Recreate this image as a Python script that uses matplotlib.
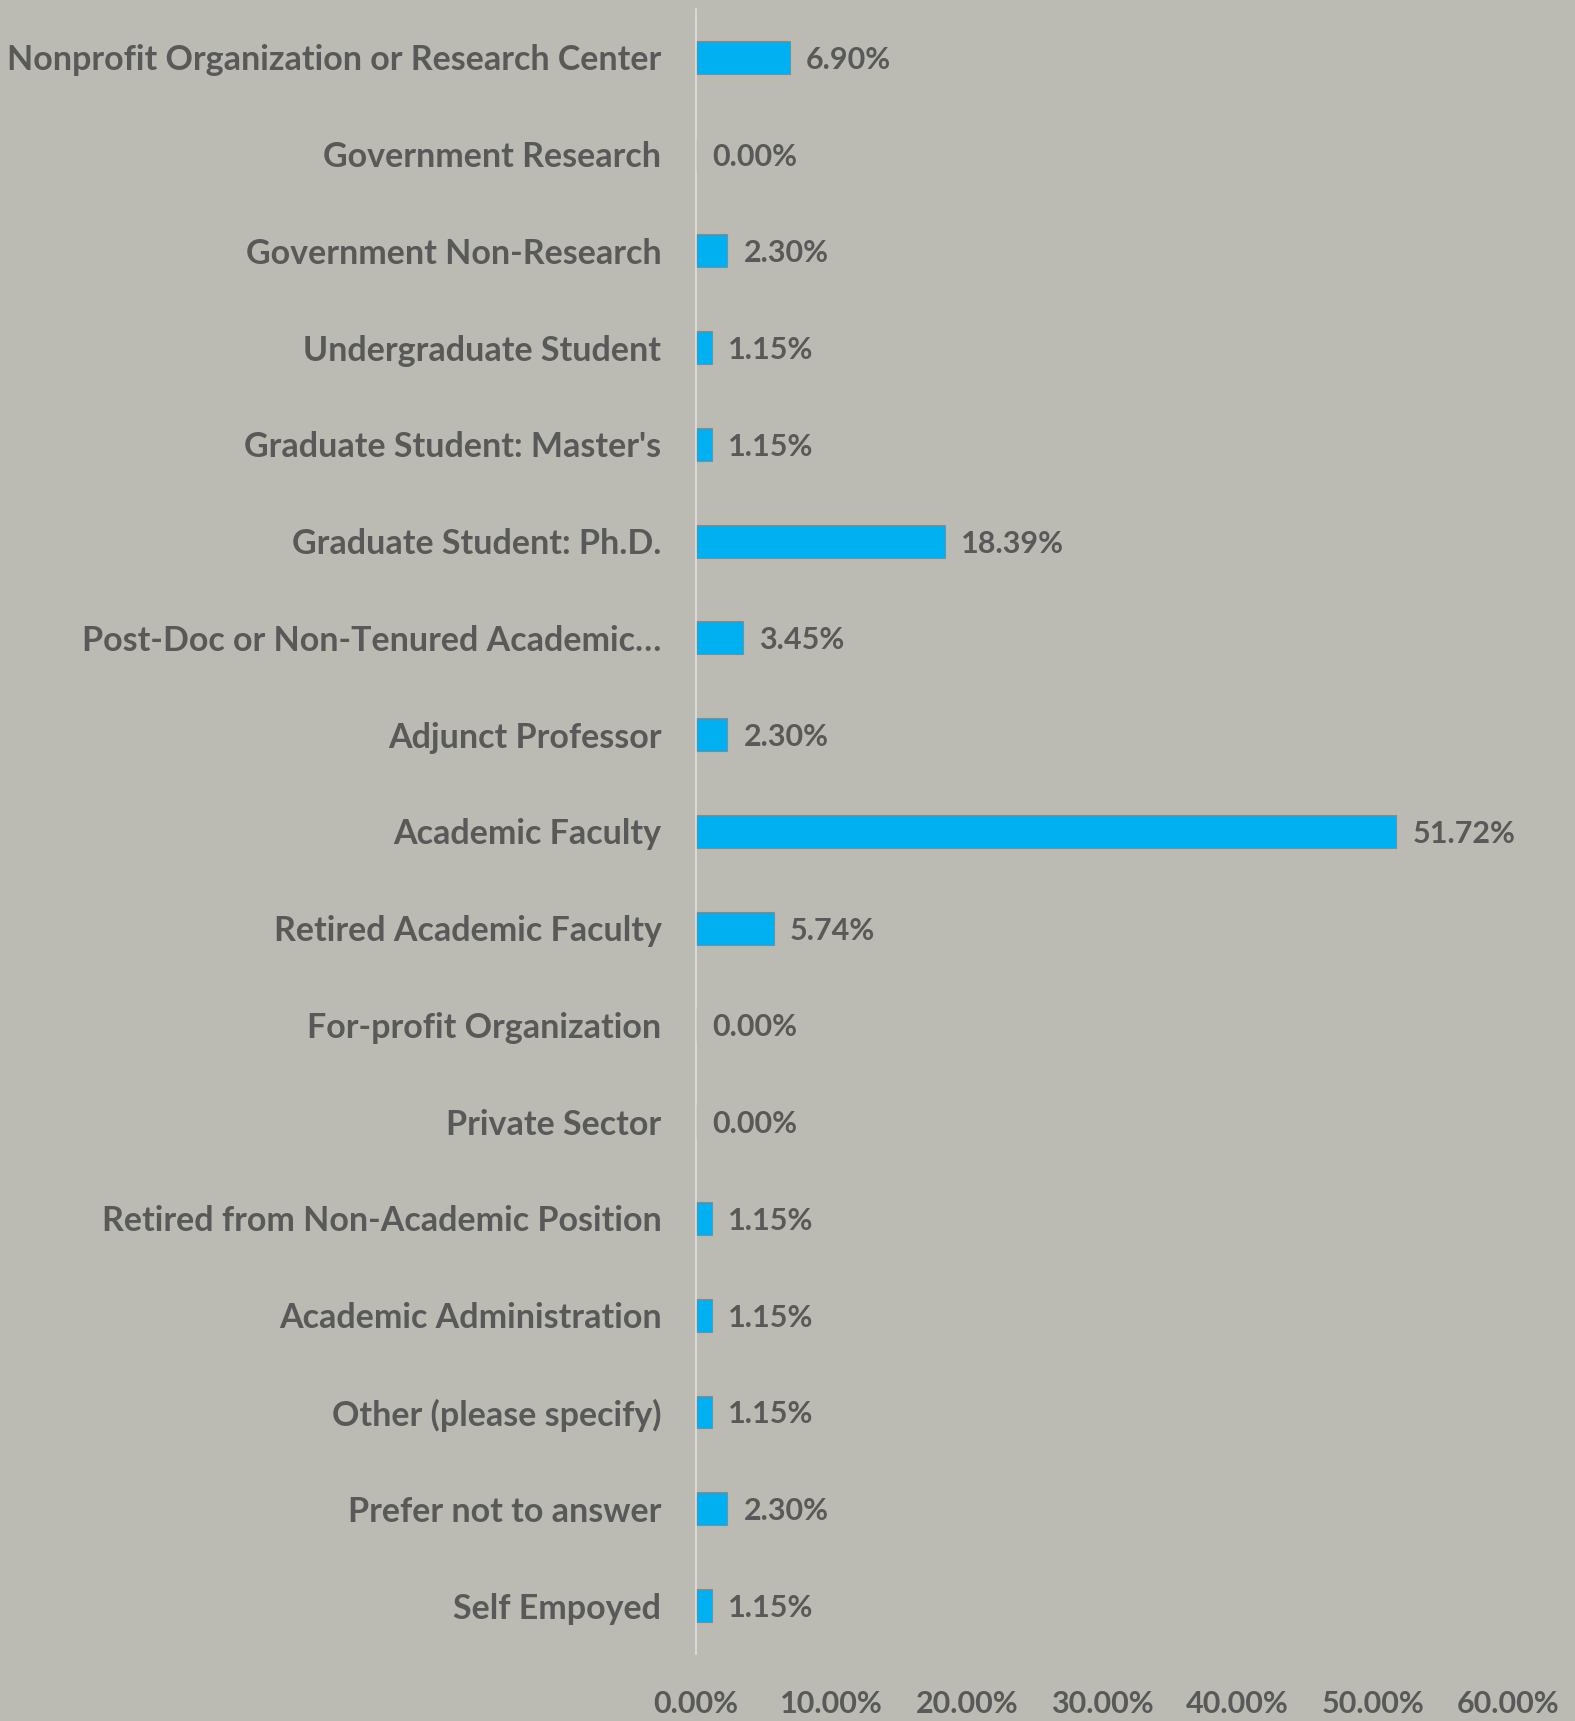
import matplotlib.pyplot as plt
from matplotlib.ticker import PercentFormatter

categories = [
    "Nonprofit Organization or Research Center",
    "Government Research",
    "Government Non-Research",
    "Undergraduate Student",
    "Graduate Student: Master's",
    "Graduate Student: Ph.D.",
    "Post-Doc or Non-Tenured Academic…",
    "Adjunct Professor",
    "Academic Faculty",
    "Retired Academic Faculty",
    "For-profit Organization",
    "Private Sector",
    "Retired from Non-Academic Position",
    "Academic Administration",
    "Other (please specify)",
    "Prefer not to answer",
    "Self Empoyed",
]
values = [6.90, 0.00, 2.30, 1.15, 1.15, 18.39, 3.45, 2.30, 51.72, 5.74,
          0.00, 0.00, 1.15, 1.15, 1.15, 2.30, 1.15]
x_ticks = [0, 10, 20, 30, 40, 50, 60]

bg = '#BBBBB3'
txt = '#595959'
fam = ['Lato', 'DejaVu Sans']

fig = plt.figure(figsize=(15.75, 17.21), dpi=100, facecolor=bg)
ax = fig.add_axes([0.442, 0.039, 0.5155, 0.9558], facecolor=bg)

ypos = list(range(len(categories)))
ax.barh(ypos, values, height=0.34, color='#00B0F0', edgecolor='#8A8A8A', linewidth=0.8)
ax.set_ylim(len(categories) - 0.5, -0.5)
ax.set_xlim(0, 60)

for y, v in zip(ypos, values):
    ax.text(v + 1.2, y, '{:.2f}%'.format(v), va='center_baseline', ha='left',
            fontsize=22, color=txt, fontweight='bold', family=fam)

ax.set_yticks(ypos)
ax.set_yticklabels(categories, fontsize=24.5, color=txt, fontweight='bold',
                   family=fam, va='center_baseline')
ax.set_xticks(x_ticks)
ax.xaxis.set_major_formatter(PercentFormatter(decimals=2))
for lab in ax.get_xticklabels():
    lab.set_fontsize(22)
    lab.set_color(txt)
    lab.set_fontweight('bold')
    lab.set_family(fam)

ax.tick_params(axis='y', length=0, pad=25)
ax.tick_params(axis='x', length=0, pad=26)
for s in ['top', 'right', 'bottom']:
    ax.spines[s].set_visible(False)
ax.spines['left'].set_color('#E0E0E0')
ax.spines['left'].set_linewidth(1.2)

fig.savefig('out.png', facecolor=bg)
